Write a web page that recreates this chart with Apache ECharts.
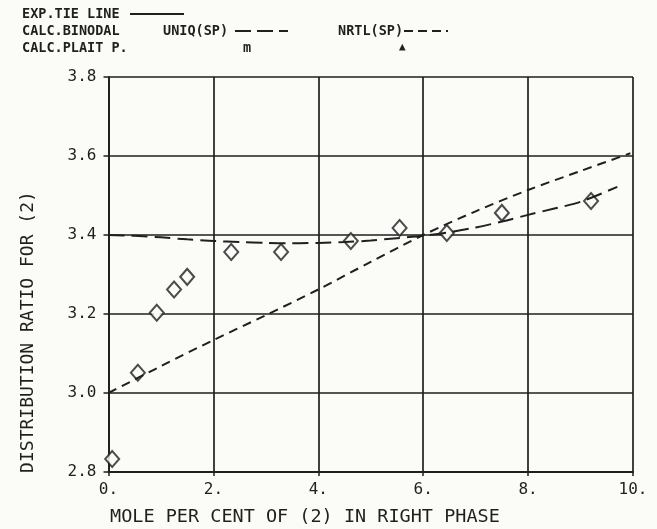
<!DOCTYPE html>
<html><head><meta charset="utf-8">
<script src="https://cdn.jsdelivr.net/npm/echarts@6/dist/echarts.min.js"></script>
<style>html,body{margin:0;padding:0;background:#fbfbf7}#c{width:657px;height:529px}</style>
</head><body><div id="c"></div>
<script>
// Experimental points (diamonds)
const expX = [0.07, 0.56, 0.92, 1.25, 1.50, 2.34, 3.29, 4.62, 5.55, 6.45, 7.50, 9.20];
const expY = [2.833, 3.051, 3.203, 3.262, 3.294, 3.357, 3.357, 3.385, 3.418, 3.405, 3.456, 3.486];
// UNIQ(SP) calculated binodal
const uniqX = [0, 0.5, 1, 1.5, 2, 2.5, 3, 3.5, 4, 4.5, 5, 5.5, 6, 6.5, 7, 7.5, 8, 8.5, 9, 9.7];
const uniqY = [3.400, 3.398, 3.394, 3.389, 3.385, 3.382, 3.380, 3.379, 3.380, 3.382, 3.386, 3.392, 3.398, 3.407, 3.419, 3.434, 3.451, 3.467, 3.484, 3.522];
// NRTL(SP) calculated binodal
const nrtlX = [0, 1, 2, 3, 4, 5, 6, 7, 8, 9, 9.95];
const nrtlY = [3.000, 3.068, 3.134, 3.197, 3.262, 3.332, 3.400, 3.460, 3.514, 3.562, 3.607];
// Axis ticks
const xTicks = [0, 2, 4, 6, 8, 10];
const yTicks = [2.8, 3.0, 3.2, 3.4, 3.6, 3.8];

const ink = '#1f1f1f';
const bg = '#fbfbf7';
const mono = '"DejaVu Sans Mono", monospace';
const zip = (a, b) => a.map((v, i) => [v, b[i]]);
const legFont = 'bold 13.5px ' + mono;

const chart = echarts.init(document.getElementById('c'), null, {renderer: 'canvas'});
chart.setOption({
  backgroundColor: bg,
  animation: false,
  grid: {left: 108.5, right: 24, top: 77, bottom: 57, show: false},
  xAxis: {
    type: 'value', min: xTicks[0], max: xTicks[xTicks.length - 1], interval: 2,
    axisLine: {show: true, lineStyle: {color: ink, width: 1.8}},
    axisTick: {show: true, inside: false, length: 4, lineStyle: {color: ink, width: 1.5}},
    splitLine: {show: true, lineStyle: {color: ink, width: 1.7}},
    axisLabel: {color: ink, fontFamily: mono, fontSize: 16, margin: 10, formatter: v => v + '.'}
  },
  yAxis: {
    type: 'value', min: yTicks[0], max: yTicks[yTicks.length - 1], interval: 0.2,
    axisLine: {show: true, lineStyle: {color: ink, width: 1.8}},
    axisTick: {show: true, inside: false, length: 5, lineStyle: {color: ink, width: 1.5}},
    splitLine: {show: true, lineStyle: {color: ink, width: 1.7}},
    axisLabel: {color: ink, fontFamily: mono, fontSize: 16, margin: 12, formatter: v => v.toFixed(1)}
  },
  series: [
    {type: 'line', name: 'NRTL(SP)', data: zip(nrtlX, nrtlY), smooth: 0.3, showSymbol: false,
     lineStyle: {color: ink, width: 2, type: [9, 6]}},
    {type: 'line', name: 'UNIQ(SP)', data: zip(uniqX, uniqY), smooth: 0.3, showSymbol: false,
     lineStyle: {color: ink, width: 2, type: [16, 7]}},
    {type: 'scatter', name: 'EXP', data: zip(expX, expY), symbol: 'diamond', symbolSize: [14, 16],
     itemStyle: {color: bg, borderColor: ink, borderWidth: 2}},
    {type: 'scatter', name: 'EXPc', data: zip(expX, expY), symbol: 'emptyCircle', symbolSize: 4,
     symbolOffset: [0, 1], itemStyle: {color: bg, borderColor: ink, borderWidth: 1.3}}
  ],
  graphic: [
    {type: 'text', left: 22, top: 7, style: {text: 'EXP.TIE LINE', font: legFont, fill: ink}},
    {type: 'line', shape: {x1: 130, y1: 14, x2: 184, y2: 14}, style: {stroke: ink, lineWidth: 1.8}},
    {type: 'text', left: 22, top: 24, style: {text: 'CALC.BINODAL', font: legFont, fill: ink}},
    {type: 'text', left: 163, top: 24, style: {text: 'UNIQ(SP)', font: legFont, fill: ink}},
    {type: 'line', shape: {x1: 235, y1: 31, x2: 288, y2: 31}, style: {stroke: ink, lineWidth: 1.8, lineDash: [16, 6]}},
    {type: 'text', left: 338, top: 24, style: {text: 'NRTL(SP)', font: legFont, fill: ink}},
    {type: 'line', shape: {x1: 404, y1: 31, x2: 448, y2: 31}, style: {stroke: ink, lineWidth: 1.8, lineDash: [9, 5]}},
    {type: 'text', left: 22, top: 41, style: {text: 'CALC.PLAIT P.', font: legFont, fill: ink}},
    {type: 'text', left: 243, top: 41, style: {text: 'm', font: legFont, fill: ink}},
    {type: 'text', left: 399, top: 42, style: {text: '\u25B2', font: 'bold 11px ' + mono, fill: ink}},
    {type: 'text', left: 110, top: 508, style: {text: 'MOLE PER CENT OF (2) IN RIGHT PHASE', font: '18.5px ' + mono, fill: ink}},
    {type: 'text', x: 28, y: 332, rotation: Math.PI / 2, style: {text: 'DISTRIBUTION RATIO FOR (2)', font: '18px ' + mono, fill: ink, align: 'center', verticalAlign: 'middle'}}
  ]
});
</script></body></html>
